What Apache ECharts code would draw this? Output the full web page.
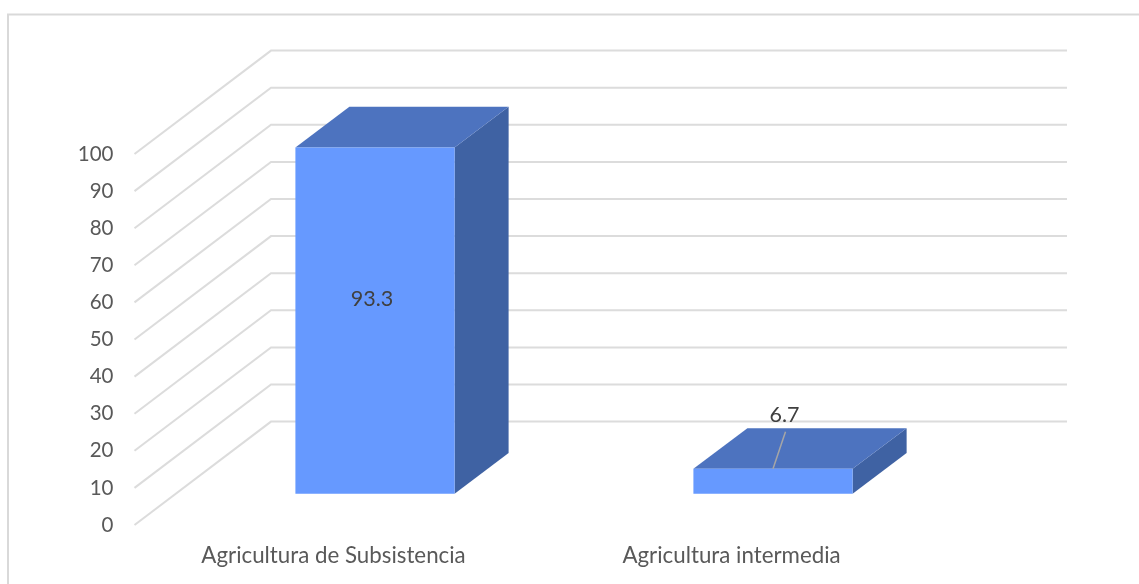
<!DOCTYPE html>
<html>
<head>
<meta charset="utf-8">
<style>html,body{margin:0;padding:0;background:#fff}#c{width:1139px;height:584px}</style>
<script src="https://cdn.jsdelivr.net/npm/echarts@6/dist/echarts.min.js"></script>
</head>
<body>
<div id="c"></div>
<script>
const categories = ['Agricultura de Subsistencia', 'Agricultura intermedia'];
const values = [93.3, 6.7];
const wallTicks = [0, 10, 20, 30, 40, 50, 60, 70, 80, 90, 100];

const FONT = 'Lato, "Open Sans", sans-serif';
const chart = echarts.init(document.getElementById('c'), null, {renderer: 'canvas'});

function renderWall(params, api) {
  const p = api.coord([0, api.value(0)]);
  const sys = params.coordSys;
  const x0 = sys.x, y = p[1];
  return {
    type: 'polyline',
    shape: {points: [[x0, y], [x0 + 136.5, y - 103.4], [x0 + sys.width + 136.5, y - 103.4]]},
    style: {stroke: '#dcdcdc', lineWidth: 2, fill: null}
  };
}

function renderBar(params, api) {
  const i = api.value(0), v = api.value(1);
  const base = api.coord([i, 0]), top = api.coord([i, v]);
  const w = api.size([1, 0])[0] * 0.4;
  const l = base[0] + 41.5 - w / 2, r = l + w;
  const b = base[1] - 31.3, t = top[1] - 31.3;
  const dx = 54, dy = -40.7;
  const cx = (l + r) / 2;
  const children = [
    {type: 'polygon', shape: {points: [[r, t], [r + dx, t + dy], [r + dx, b + dy], [r, b]]}, style: {fill: '#3F62A3'}},
    {type: 'polygon', shape: {points: [[l, t], [l + dx, t + dy], [r + dx, t + dy], [r, t]]}, style: {fill: '#4D73BF'}},
    {type: 'rect', shape: {x: l, y: t, width: w, height: b - t}, style: {fill: '#6699FF'}}
  ];
  const small = v < 10;
  if (small) {
    children.push({type: 'line', shape: {x1: cx, y1: t, x2: cx + 12.5, y2: t - 37}, style: {stroke: '#a6a6a6', lineWidth: 1.5}});
  }
  children.push({
    type: 'text',
    style: {
      text: String(v),
      x: small ? cx + 11.5 : cx - 3,
      y: small ? t - 54 : (t + b) / 2 - 22,
      align: 'center', verticalAlign: 'middle',
      fill: '#404040', font: '21.5px ' + FONT
    }
  });
  return {type: 'group', children};
}

chart.setOption({
  animation: false,
  backgroundColor: '#fff',
  grid: {left: 134.5, width: 796, top: 154, height: 371},
  xAxis: {
    type: 'category', data: categories,
    axisLine: {show: false}, axisTick: {show: false},
    axisLabel: {color: '#595959', fontFamily: FONT, fontSize: 22.3, margin: 20, interval: 0}
  },
  yAxis: {
    type: 'value', min: 0, max: 100, interval: 10,
    axisLine: {show: false}, axisTick: {show: false}, splitLine: {show: false},
    axisLabel: {color: '#595959', fontFamily: FONT, fontSize: 20.5, margin: 21}
  },
  graphic: [{
    type: 'polyline', silent: true, z: -1,
    shape: {points: [[8, 584], [8, 14.5], [1139, 14.5]]},
    style: {stroke: '#d9d9d9', lineWidth: 2, fill: null}
  }],
  series: [
    {type: 'custom', name: 'walls', coordinateSystem: 'cartesian2d', clip: false, silent: true, z: 1,
     data: wallTicks.map(t => [t]), encode: {y: 0}, renderItem: renderWall},
    {type: 'custom', name: 'values', coordinateSystem: 'cartesian2d', clip: false, silent: true, z: 2,
     data: values.map((v, i) => [i, v]), encode: {x: 0, y: 1}, renderItem: renderBar}
  ]
});
</script>
</body>
</html>
